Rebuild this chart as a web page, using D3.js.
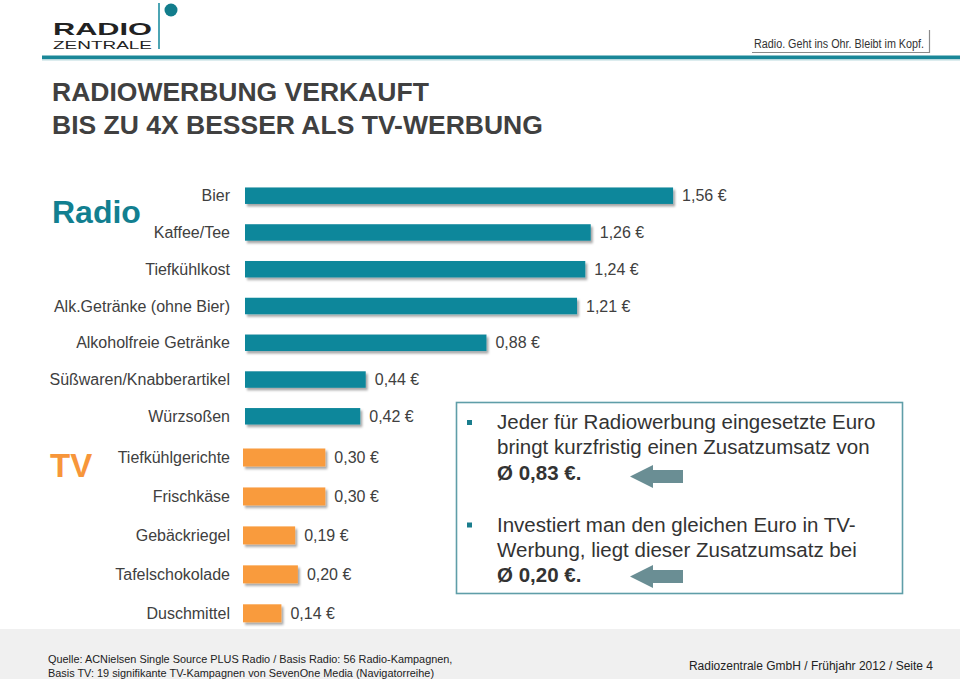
<!DOCTYPE html>
<html>
<head>
<meta charset="utf-8">
<script src="https://cdn.jsdelivr.net/npm/d3@7"></script>
<style>
  html, body { margin: 0; padding: 0; background: #fff; }
  svg { display: block; font-family: "Liberation Sans", Arimo, Arial, sans-serif; }
</style>
</head>
<body>
<svg id="chart" width="960" height="679"></svg>
<script>
// ---- data ----
const radioCategories = ["Bier", "Kaffee/Tee", "Tiefkühlkost", "Alk.Getränke (ohne Bier)", "Alkoholfreie Getränke", "Süßwaren/Knabberartikel", "Würzsoßen"];
const radioValues = [1.56, 1.26, 1.24, 1.21, 0.88, 0.44, 0.42];
const tvCategories = ["Tiefkühlgerichte", "Frischkäse", "Gebäckriegel", "Tafelschokolade", "Duschmittel"];
const tvValues = [0.30, 0.30, 0.19, 0.20, 0.14];
const titleLines = ["RADIOWERBUNG VERKAUFT", "BIS ZU 4X BESSER ALS TV-WERBUNG"];
const bullet1 = ["Jeder für Radiowerbung eingesetzte Euro", "bringt kurzfristig einen Zusatzumsatz von", "Ø 0,83 €."];
const bullet2 = ["Investiert man den gleichen Euro in TV-", "Werbung, liegt dieser Zusatzumsatz bei", "Ø 0,20 €."];
const sourceLines = ["Quelle: ACNielsen Single Source PLUS Radio / Basis Radio: 56 Radio-Kampagnen,", "Basis TV: 19 signifikante TV-Kampagnen von SevenOne Media (Navigatorreihe)"];
const pageNote = "Radiozentrale GmbH / Frühjahr 2012 / Seite 4";
const slogan = "Radio. Geht ins Ohr. Bleibt im Kopf.";

const TEAL = "#10879b", ORANGE = "#f99b3e", TEXT = "#404040";

const svg = d3.select("#chart");
const defs = svg.append("defs");
const f = defs.append("filter").attr("id", "shadow").attr("x", "-10%").attr("y", "-50%").attr("width", "130%").attr("height", "220%");
f.append("feDropShadow").attr("dx", 2).attr("dy", 2.5).attr("stdDeviation", 1.3).attr("flood-color", "#000").attr("flood-opacity", 0.35);

// ---- header ----
const hdr = svg.append("g");
hdr.append("text").attr("x", 53).attr("y", 35).attr("font-size", 17).attr("font-weight", "bold")
  .attr("fill", "#222").attr("textLength", 99).attr("lengthAdjust", "spacingAndGlyphs").text("RADIO");
hdr.append("text").attr("x", 53).attr("y", 48.5).attr("font-size", 11)
  .attr("fill", "#222").attr("textLength", 99).attr("lengthAdjust", "spacingAndGlyphs").text("ZENTRALE");
hdr.append("line").attr("x1", 159).attr("x2", 159).attr("y1", 3).attr("y2", 49).attr("stroke", TEAL).attr("stroke-width", 1.5);
hdr.append("circle").attr("cx", 171).attr("cy", 10).attr("r", 6.5).attr("fill", "#127d8c");
hdr.append("rect").attr("x", 42).attr("y", 55.5).attr("width", 918).attr("height", 3.5).attr("fill", "#1a8798");
hdr.append("rect").attr("x", 42).attr("y", 59).attr("width", 918).attr("height", 1.5).attr("fill", "#b9d9de");
hdr.append("text").attr("x", 754).attr("y", 47.5).attr("font-size", 12).attr("fill", "#333")
  .attr("textLength", 170).attr("lengthAdjust", "spacingAndGlyphs").text(slogan);
hdr.append("path").attr("d", "M752,52.5 H929.5 V30").attr("fill", "none").attr("stroke", "#8a8a8a").attr("stroke-width", 1.2);

// ---- title ----
svg.append("g").selectAll("text").data(titleLines).join("text")
  .attr("x", 52).attr("y", (d, i) => 101 + i * 33)
  .attr("font-size", 26.5).attr("font-weight", "bold").attr("fill", TEXT).text(d => d);

// ---- scales ----
const xRadio = d3.scaleLinear().domain([0, 1]).range([245, 245 + 274.4]);
const xTV = d3.scaleLinear().domain([0, 1]).range([243, 243 + 274.4]);
const yRadio = d3.scalePoint().domain(radioCategories).range([195.7, 416.3]);
const yTV = d3.scalePoint().domain(tvCategories).range([457.5, 613.3]);
const fmt = v => d3.format(".2f")(v).replace(".", ",") + " €";

function drawGroup(cats, vals, x, y, h, color) {
  const data = cats.map((c, i) => ({ c, v: vals[i] }));
  const g = svg.append("g");
  g.selectAll("rect").data(data).join("rect")
    .attr("x", x(0)).attr("y", d => y(d.c) - h / 2)
    .attr("width", d => x(d.v) - x(0)).attr("height", h)
    .attr("fill", color).attr("filter", "url(#shadow)");
  g.selectAll("text.cat").data(data).join("text").attr("class", "cat")
    .attr("x", 230).attr("y", d => y(d.c)).attr("dy", "0.35em")
    .attr("text-anchor", "end").attr("font-size", 16).attr("fill", TEXT).text(d => d.c);
  g.selectAll("text.val").data(data).join("text").attr("class", "val")
    .attr("x", d => x(d.v) + 9).attr("y", d => y(d.c)).attr("dy", "0.35em")
    .attr("font-size", 16).attr("fill", TEXT).text(d => fmt(d.v));
}
drawGroup(radioCategories, radioValues, xRadio, yRadio, 16.5, TEAL);
drawGroup(tvCategories, tvValues, xTV, yTV, 18, ORANGE);

// group labels
svg.append("text").attr("x", 52).attr("y", 223).attr("font-size", 32).attr("font-weight", "bold").attr("fill", "#127f90").text("Radio");
svg.append("text").attr("x", 50).attr("y", 477).attr("font-size", 33).attr("font-weight", "bold").attr("fill", "#f7963a").text("TV");

// ---- info box ----
const box = svg.append("g");
box.append("rect").attr("x", 456.5).attr("y", 402.5).attr("width", 446).attr("height", 191)
  .attr("fill", "#fff").attr("stroke", "#5f9ea8").attr("stroke-width", 1.6);
function bulletBlock(lines, y0) {
  box.append("rect").attr("x", 467).attr("y", y0 - 9).attr("width", 5).attr("height", 5).attr("fill", "#1a7d8d");
  box.selectAll(null).data(lines).join("text")
    .attr("x", 497).attr("y", (d, i) => y0 + i * 25.3)
    .attr("font-size", 20.5).attr("fill", "#333")
    .attr("font-weight", (d, i) => i === lines.length - 1 ? "bold" : "normal").text(d => d);
}
bulletBlock(bullet1, 429);
bulletBlock(bullet2, 531.5);
function arrow(cy) {
  box.append("path").attr("fill", "#6a8e94")
    .attr("d", `M630,${cy} L653,${cy - 11.5} L653,${cy - 6.5} L683,${cy - 6.5} L683,${cy + 6.5} L653,${cy + 6.5} L653,${cy + 11.5} Z`);
}
arrow(476.5);
arrow(576.5);

// ---- footer ----
svg.append("rect").attr("x", 0).attr("y", 629).attr("width", 960).attr("height", 50).attr("fill", "#f0f0f0");
svg.append("g").selectAll("text").data(sourceLines).join("text")
  .attr("x", 48).attr("y", (d, i) => 663 + i * 13.5).attr("font-size", 10.9).attr("fill", "#222").text(d => d);
svg.append("text").attr("x", 933).attr("y", 670).attr("text-anchor", "end").attr("font-size", 12).attr("fill", "#222").text(pageNote);
</script>
</body>
</html>
